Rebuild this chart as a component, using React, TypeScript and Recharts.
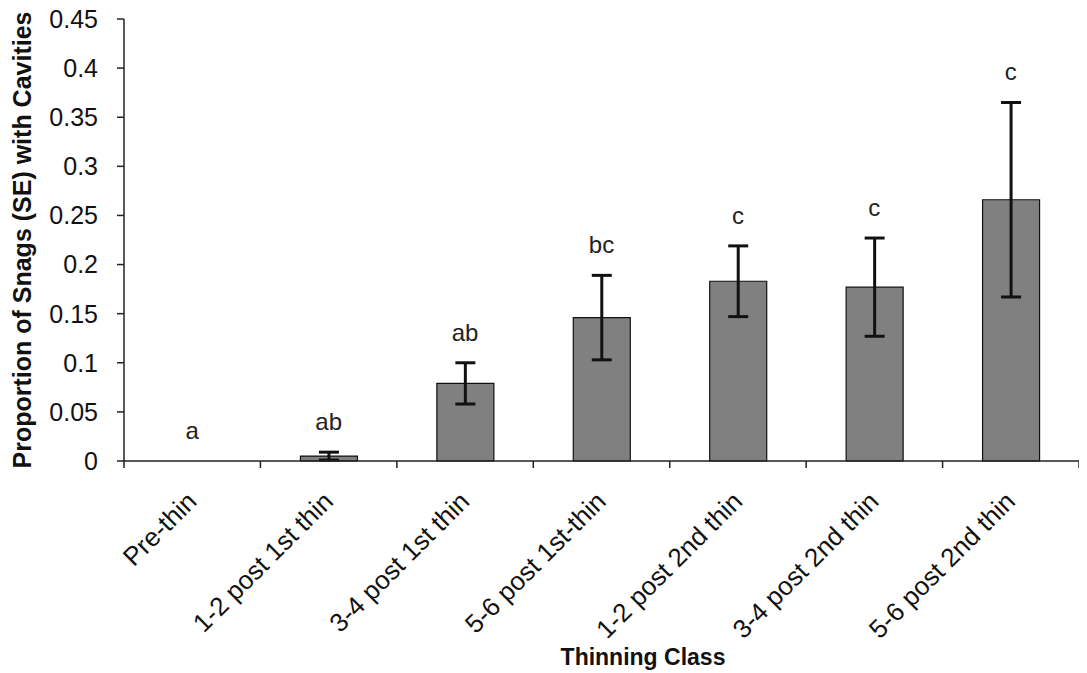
import React from 'react';
import { ComposedChart, Bar, Scatter, XAxis, YAxis, ErrorBar } from 'recharts';

const categories = [
  'Pre-thin',
  '1-2 post 1st thin',
  '3-4 post 1st thin',
  '5-6 post 1st-thin',
  '1-2 post 2nd thin',
  '3-4 post 2nd thin',
  '5-6 post 2nd thin',
];
const proportions = [0, 0.005, 0.079, 0.146, 0.183, 0.177, 0.266];
const standardErrors = [0, 0.004, 0.021, 0.043, 0.036, 0.05, 0.099];
const groupLetters = ['a', 'ab', 'ab', 'bc', 'c', 'c', 'c'];
const yTicks = [0, 0.05, 0.1, 0.15, 0.2, 0.25, 0.3, 0.35, 0.4, 0.45];

const FONT = '"Liberation Sans", Arial, sans-serif';
const AXIS = '#222';

const WIDTH = 1071;
const HEIGHT = 665;
const MARGIN = { top: 11, right: 0, left: 0, bottom: 0 };
const Y_AXIS_W = 116;
const X_AXIS_H = 212;
const PLOT_W = WIDTH - Y_AXIS_W - MARGIN.left - MARGIN.right;
const BAND = PLOT_W / categories.length;

// letters sit just above the top of each error bar
const data = categories.map((name, i) => ({
  name,
  value: proportions[i],
  se: standardErrors[i],
  letter: groupLetters[i],
  letterAt: proportions[i] + standardErrors[i],
}));

const CategoryTick = (props: any) => {
  const { x, y, payload } = props;
  const idx = categories.indexOf(payload.value);
  const left = x - BAND / 2;
  const tx = x + 6;
  const ty = y + 42;
  return (
    <g>
      <line x1={left} x2={left} y1={y} y2={y + 7} stroke={AXIS} strokeWidth={1.5} />
      {idx === categories.length - 1 && (
        <line x1={x + BAND / 2} x2={x + BAND / 2} y1={y} y2={y + 7} stroke={AXIS} strokeWidth={1.5} />
      )}
      <text
        x={tx}
        y={ty}
        textAnchor="end"
        transform={`rotate(-45, ${tx}, ${ty})`}
        fontFamily={FONT}
        fontSize={26}
        fill="#111"
      >
        {payload.value}
      </text>
    </g>
  );
};

const LetterShape = (props: any) => {
  const { cx, cy, payload } = props;
  return (
    <text x={cx} y={cy - 22} textAnchor="middle" fontFamily={FONT} fontSize={24} fill="#222">
      {payload.letter}
    </text>
  );
};

const YTitle = (props: any) => {
  const { viewBox } = props;
  const cy = viewBox.y + viewBox.height / 2;
  return (
    <text
      x={14}
      y={cy}
      transform={`rotate(-90, 14, ${cy})`}
      textAnchor="middle"
      dominantBaseline="central"
      fontFamily={FONT}
      fontWeight="bold"
      fontSize={25}
      fill="#111"
    >
      Proportion of Snags (SE) with Cavities
    </text>
  );
};

const XTitle = () => (
  <text x={635} y={657} textAnchor="middle" fontFamily={FONT} fontWeight="bold" fontSize={23} fill="#111">
    Thinning Class
  </text>
);

export default function App() {
  return (
    <div style={{ width: WIDTH, height: HEIGHT, background: '#fff' }}>
      <ComposedChart width={WIDTH} height={HEIGHT} data={data} margin={MARGIN}>
        <XAxis
          dataKey="name"
          height={X_AXIS_H}
          interval={0}
          tickLine={false}
          tickSize={0}
          tickMargin={0}
          axisLine={{ stroke: AXIS, strokeWidth: 1.5 }}
          tick={<CategoryTick />}
          label={<XTitle />}
        />
        <YAxis
          width={Y_AXIS_W}
          domain={[0, 0.45]}
          ticks={yTicks}
          interval={0}
          tickSize={7}
          tickMargin={19}
          tickLine={{ stroke: AXIS, strokeWidth: 1.5 }}
          axisLine={{ stroke: AXIS, strokeWidth: 1.5 }}
          tick={{ fill: '#111', fontSize: 25, fontFamily: FONT }}
          tickFormatter={(v: number) => String(v)}
          label={<YTitle />}
        />
        <Bar dataKey="value" fill="#808080" stroke="#111" strokeWidth={1.2} barSize={57} isAnimationActive={false}>
          <ErrorBar dataKey="se" width={10} strokeWidth={3} stroke="#111" isAnimationActive={false} />
        </Bar>
        <Scatter dataKey="letterAt" shape={<LetterShape />} legendType="none" isAnimationActive={false} />
      </ComposedChart>
    </div>
  );
}
